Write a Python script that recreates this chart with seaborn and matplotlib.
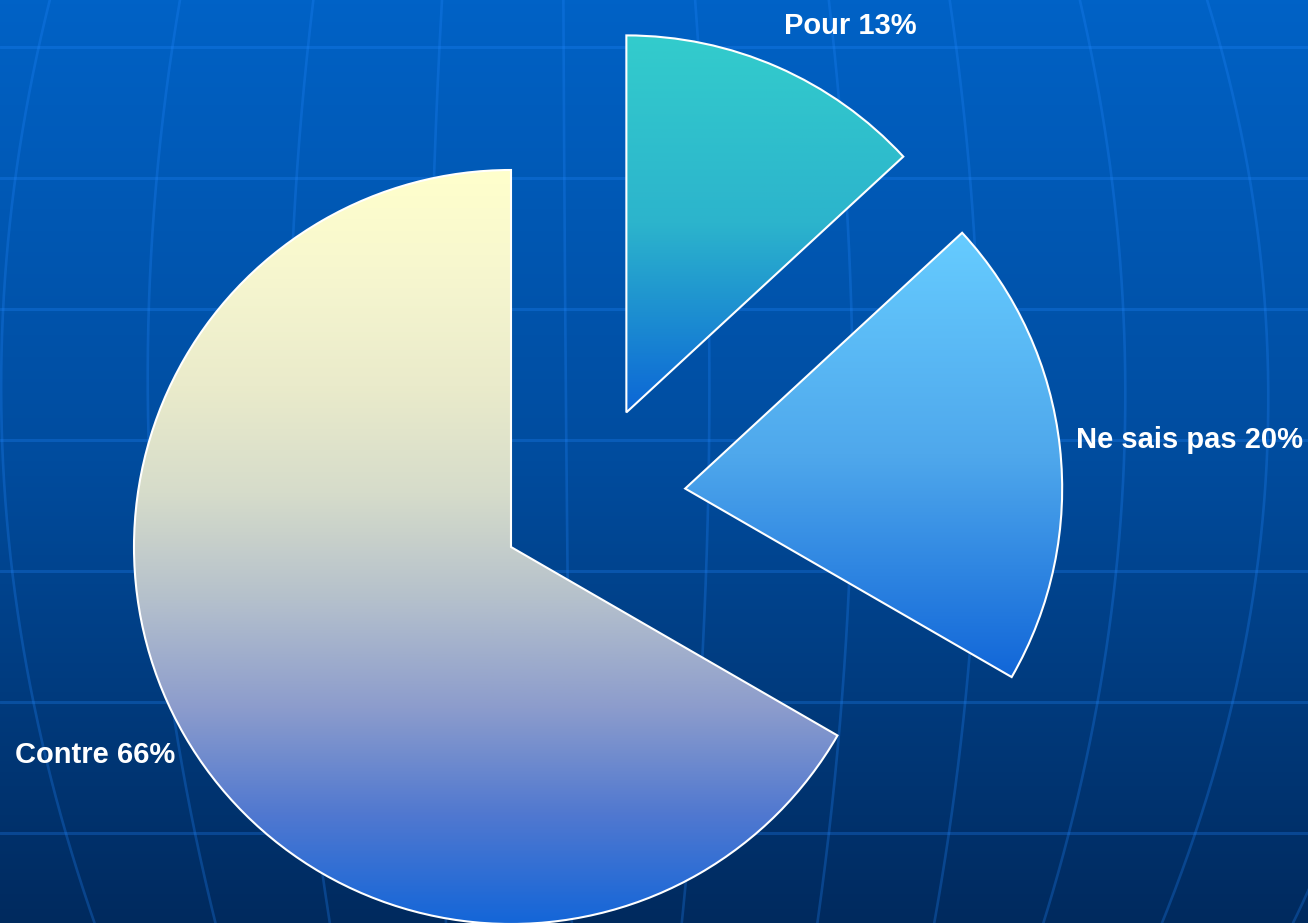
import numpy as np
import matplotlib
matplotlib.use("Agg")
import matplotlib.pyplot as plt
import seaborn as sns

labels = ["Pour", "Ne sais pas", "Contre"]
values = [13, 20, 66]

# gradient stops (top -> bottom) of each slice
slice_stops = [
    ["#33CCCC", "#2CB4CC", "#0C66D6"],
    ["#66CCFF", "#4FA8EC", "#1166D8"],
    ["#FFFFCC", "#F6F6CF", "#EAEBCB", "#D6DCCA", "#B4C0CC", "#8C9CCC", "#5078D0", "#1466D8"],
]
# where each slice apex sits, in pie radius units
slice_offsets = [(0.306, 0.357), (0.462, 0.155), (0.0, 0.0)]
# label centres, pixels
label_xy = [(850, 26), (1189, 440), (95, 755)]

W, H = 1308, 923
cx, cy, R = 511, 547, 377

# background "globe" lines, pixels
lat_y = [47, 178, 309, 440, 571, 702, 833]
meridians = [
    [(0, 50), (178, 15), (400, 1), (600, 17), (702, 33), (833, 65), (923, 95)],
    [(0, 180), (178, 157), (400, 147), (730, 177), (833, 195), (923, 215)],
    [(0, 314), (178, 295), (400, 290), (873, 322), (923, 330)],
    [(0, 442), (178, 434), (923, 446)],
    [(0, 563), (178, 565), (400, 566), (570, 567), (923, 572)],
    [(0, 695), (400, 710), (650, 702), (923, 682)],
    [(0, 829), (400, 852), (600, 849), (702, 842), (833, 829), (923, 817)],
    [(0, 951), (400, 974), (660, 974), (702, 968), (833, 948), (923, 932)],
    [(0, 1080), (178, 1112), (309, 1122), (440, 1125), (600, 1113), (702, 1098), (833, 1069), (923, 1043)],
    [(0, 1207), (178, 1250), (309, 1265), (440, 1267), (600, 1253), (702, 1233), (833, 1195), (923, 1162)],
    [(702, 1370), (833, 1332), (923, 1293)],
]

sns.set_style("white")
plt.rcParams["font.family"] = ["Liberation Sans", "DejaVu Sans"]

fig = plt.figure(figsize=(13.08, 9.23), dpi=100)

bg = fig.add_axes([0, 0, 1, 1])
bg_cmap = sns.blend_palette(["#0062C6", "#004C9E", "#002A5E"], as_cmap=True)
bg.imshow(np.linspace(0, 1, 256)[:, None], cmap=bg_cmap, aspect="auto",
          extent=[0, W, H, 0], zorder=0)
for y in lat_y:
    bg.axhline(y, color="#2288FF", lw=2.2, alpha=0.27, zorder=1)
for pts in meridians:
    ys, xs = np.array(pts, dtype=float).T
    coef = np.polyfit(ys, xs, 2)
    yy = np.linspace(ys.min(), ys.max(), 200)
    bg.plot(np.polyval(coef, yy), yy, color="#2288FF", lw=1.9, alpha=0.27, zorder=1)
bg.set_xlim(0, W)
bg.set_ylim(H, 0)
bg.axis("off")

ax = fig.add_axes([0, 0, 1, 1])
ax.set_facecolor("none")
wedges, _ = ax.pie(values, startangle=90, counterclock=False, radius=1,
                   wedgeprops=dict(edgecolor="white", linewidth=1.5))
grad = np.linspace(0, 1, 256)[:, None]
for w, off, stops in zip(wedges, slice_offsets, slice_stops):
    w.set_center(off)
    w.set_facecolor("none")
    w.set_zorder(3)
    ext = w.get_path().get_extents()
    im = ax.imshow(grad, cmap=sns.blend_palette(stops, as_cmap=True), aspect="auto",
                   extent=[ext.x0, ext.x1, ext.y0, ext.y1], zorder=2)
    im.set_clip_path(w)

for lab, v, (x, y) in zip(labels, values, label_xy):
    ax.text(x, y, f"{lab} {v}%", transform=bg.transData, color="white",
            fontsize=21, fontweight="bold", ha="center", va="center", zorder=5)

ax.set_xlim(-cx / R, (W - cx) / R)
ax.set_ylim(-(H - cy) / R, cy / R)
ax.set_aspect("auto")
ax.axis("off")

fig.savefig("out.png", dpi=100)
